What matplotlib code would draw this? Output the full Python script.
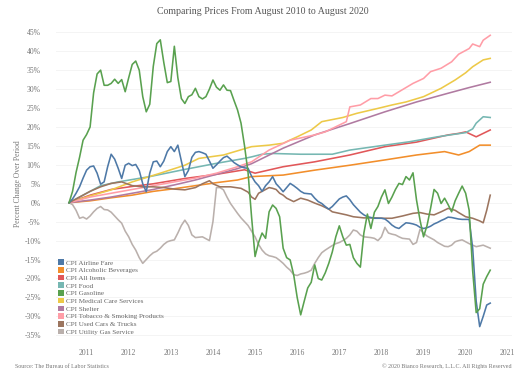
import numpy as np
import matplotlib
matplotlib.use('Agg')
import matplotlib.pyplot as plt
from matplotlib.patches import Patch

# months counted from August 2010 (0) to August 2020 (120)
airline_m = list(range(121))
airline_v = [0, 1, 2.5, 4.2, 6.5, 8.6, 9.5, 9.7, 7.8, 4.9, 5.5, 9.5, 12.8, 11.5, 9.1, 6.4,
             9.9, 10.4, 9.8, 10.1, 8.5, 5, 2.9, 7.8, 10.8, 11, 9.5, 11, 13.5, 14.8, 13.5,
             15.2, 11, 6.9, 8.5, 12, 13.3, 13.5, 13.2, 12.8, 11, 9.1, 10, 11, 11.9, 12.3,
             11.5, 10.6, 10, 9.5, 9.2, 9.1, 7, 5.5, 4.5, 3, 4.5, 5.5, 6.9, 5, 4, 2.9, 4,
             5.1, 4.5, 3.8, 3, 2.5, 2.4, 2.3, 1.2, 0.3, -0.2, -1, -1.7, -1, 0, 1, 1.5, 1.8,
             0.8, -0.5, -1.5, -2.5, -3.2, -3.7, -3.9, -4.1, -4.1, -4.1, -4.3, -5, -5.9,
             -6.5, -6.8, -6, -5.3, -5.4, -5.6, -5.9, -6.5, -6.8, -6.6, -6.2, -5.6, -5.2,
             -4.7, -4.3, -3.8, -3.9, -4.1, -4.3, -4.4, -4.4, -4.4, -12, -26, -32.7, -30,
             -27, -26.5]

alcohol_m = [0, 6, 12, 18, 24, 30, 36, 42, 48, 52, 61, 70, 80, 90, 99, 107, 111, 114, 117, 120]
alcohol_v = [0, 0.5, 1.3, 2, 3, 3.7, 4.5, 5.3, 6, 6.9, 7.3, 8.6, 9.9, 11.3, 12.6, 13.5, 12.6,
             13.5, 15.2, 15.2]

allitems_m = [0, 6, 12, 18, 24, 33, 42, 48, 50, 53, 61, 70, 80, 90, 99, 108, 111, 113, 116,
              118, 120]
allitems_v = [0, 2, 3.5, 4.3, 5, 6.4, 7.5, 8.4, 8.7, 7.8, 9.5, 10.8, 12.6, 14.8, 16, 17.9,
              18.3, 18.7, 17.4, 18.3, 19.2]

food_m = [0, 4, 9, 14, 23, 33, 42, 50, 52, 55, 58, 66, 75, 80, 90, 97, 105, 110, 113, 115,
          116, 118, 120]
food_v = [0, 2, 4.5, 5.5, 6.9, 8.8, 10.4, 11.7, 12.1, 12.8, 13, 12.8, 12.8, 13.9, 15.2, 16.1,
          17.4, 18.1, 18.5, 19.5, 21, 22.7, 22.5]

gas_m = list(range(121))
gas_v = [0, 3, 8, 12, 16.5, 18, 20, 29, 34, 35, 31, 31, 31.5, 32.6, 31.5, 32.5, 29.3, 33,
         36.5, 37.4, 35, 28, 24, 26, 36, 42, 43, 37, 31.7, 32, 41.3, 33, 27.5, 26.2, 28,
         28.5, 30.2, 28, 27.4, 28, 30, 32.4, 30.5, 29.7, 31.1, 29.7, 29.6, 27, 24.5, 21,
         15, 8, -3.7, -14.2, -10.5, -8, -9.4, -2.4, -0.6, -1.5, -3.7, -12, -14.5, -15.1,
         -19, -25, -29.6, -26, -22.5, -21, -16.4, -20, -20.4, -18.5, -16, -13, -9, -6.1,
         -9, -11.2, -11, -14.5, -16, -17, -8, -3, -6.8, -2.5, -1, 1.5, 3.4, -0.2, 1.5, 3.5,
         5.1, 4.8, 6.9, 6, 7.9, 0.7, -4.6, -9, -6, -1.5, 3.5, 2.5, -0.2, 1.2, -0.5, -2.4,
         0.5, 2.5, 4.4, 2.5, -2, -18, -29, -28, -21.5, -19.5, -17.8]

medical_m = [0, 6, 12, 18, 26, 33, 37, 44, 52, 57, 61, 65, 69, 72, 78, 82, 88, 92, 96, 101,
             106, 110, 113, 115, 118, 120]
medical_v = [0, 1.8, 3.4, 5.5, 7.8, 9.9, 11.7, 12.6, 14.8, 15.2, 15.7, 17.4, 19.2, 21.4,
             22.5, 23.6, 24.9, 25.8, 26.6, 28, 30.2, 32.4, 34.3, 35.9, 37.7, 38.1]

shelter_m = [0, 6, 12, 18, 24, 30, 36, 42, 48, 52, 61, 70, 80, 90, 99, 108, 114, 120]
shelter_v = [0, 0.7, 1.5, 2.5, 3.5, 4.7, 6, 7.5, 9, 10.3, 14.4, 17.9, 20.9, 24, 26.6, 28.9,
             30.4, 31.8]

tobacco_m = [0, 6, 12, 18, 24, 30, 36, 42, 48, 52, 57, 63, 70, 73, 79, 80, 83, 86, 88, 90,
             92, 94, 98, 101, 103, 106, 109, 111, 114, 115, 117, 118, 120]
tobacco_v = [0, 1.5, 2.5, 3.5, 4.5, 5.5, 6.5, 7.8, 9.5, 10.8, 13.9, 16.5, 17.9, 18.7, 21.4,
             25.3, 25.8, 27.5, 27.5, 28.4, 28.2, 29.3, 31.5, 32.8, 34.6, 35.5, 37.2, 39.2,
             40.7, 41.9, 41.2, 42.9, 44.2]

cars_m = [0, 3, 6, 9, 12, 15, 18, 21, 24, 27, 30, 33, 36, 38, 40, 41, 43, 46, 49, 51, 52,
          53, 54, 56, 57, 58, 59, 60, 61, 62, 64, 66, 68, 70, 72, 74, 75, 77, 79, 81, 84,
          87, 90, 92, 95, 98, 100, 102, 104, 106, 108, 110, 111, 113, 115, 117, 118, 119, 120]
cars_v = [0, 1.5, 3, 4.2, 5.1, 5.5, 4.5, 4.2, 4.2, 4, 3.6, 3.4, 4, 5, 5.8, 5, 4.2, 4.2,
          3.8, 2.8, 1.5, 0.9, 2.5, 3.5, 4, 3.8, 3.5, 2.5, 2, 1.2, 0.3, 1.2, 0.7, -0.1, -0.8,
          -1.7, -2.4, -2.8, -3.2, -3.7, -4, -4, -4.1, -4.1, -3.5, -2.8, -2.6, -3, -3.2, -2.4,
          -1.5, -2, -2.6, -3.7, -4.1, -4.8, -5.3, -2, 2]

utility_m = list(range(121))
utility_v = [0, -0.5, -2, -4.1, -3.8, -4.3, -3.5, -2.4, -1.5, -1, -1.8, -1.9, -2.5, -3.5,
             -4.5, -5.4, -7.5, -9, -11, -12.5, -14.5, -16, -15, -14, -13.2, -12.8, -12, -11,
             -10.3, -10, -9.8, -8, -6, -4.6, -6, -8.5, -9.2, -9.1, -9, -9.5, -10, -5, 4, 4,
             3.4, 1.5, -0.2, -1.5, -2.8, -4, -5, -6, -7.5, -9, -11, -12.5, -13.5, -14, -14.2,
             -14.5, -15.2, -16, -17, -17.8, -19, -19.2, -18.8, -18.6, -18.3, -17.8, -16,
             -14.5, -13.2, -12.5, -11.9, -11.3, -10.8, -10.5, -10, -9.4, -8.5, -7.2, -7.5,
             -8.5, -9, -9.1, -9.2, -9.4, -10, -9, -6.5, -8, -8.3, -8.5, -9, -9.4, -9.5, -9.6,
             -11, -10.5, -7, -8, -8.8, -9.3, -9.8, -10.5, -11, -11.5, -11.6, -11.2, -10.3,
             -10, -9.8, -10.3, -10.8, -11.2, -11.6, -11.4, -11.2, -11.6, -12]

labels = ['CPI Airline Fare', 'CPI Alcoholic Beverages', 'CPI All Items', 'CPI Food',
          'CPI Gasoline', 'CPI Medical Care Services', 'CPI Shelter',
          'CPI Tobacco & Smoking Products', 'CPI Used Cars & Trucks', 'CPI Utility Gas Service']
colors = ['#4e79a7', '#f28e2b', '#e15759', '#76b7b2', '#59a14f', '#edc948', '#b07aa1',
          '#ff9da7', '#9c755f', '#bab0ac']
series = [(airline_m, airline_v), (alcohol_m, alcohol_v), (allitems_m, allitems_v),
          (food_m, food_v), (gas_m, gas_v), (medical_m, medical_v), (shelter_m, shelter_v),
          (tobacco_m, tobacco_v), (cars_m, cars_v), (utility_m, utility_v)]

years = list(range(2011, 2022))
yticks = list(range(-35, 50, 5))

plt.rcParams['font.family'] = ['Liberation Serif', 'DejaVu Serif']

fig = plt.figure(figsize=(5.22, 3.77), dpi=100)
ax = fig.add_axes([0.1073, 0.1005, 0.8736, 0.824])

# draw order: smooth ones behind volatile ones roughly like the original
order = [1, 2, 3, 5, 6, 7, 9, 8, 0, 4]
for i in order:
    m, v = series[i]
    x = 2010 + 7 / 12 + np.array(m) / 12
    ax.plot(x, v, color=colors[i], lw=1.15, solid_joinstyle='round')

ax.set_xlim(2010.274, 2021.101)
ax.set_ylim(-36, 46)
ax.set_xticks(years)
ax.set_xticklabels([str(y) for y in years])
ax.set_yticks(yticks)
ax.set_yticklabels(['%d%%' % t for t in yticks])
ax.tick_params(length=0, labelsize=5.5, labelcolor='#777777')
ax.tick_params(axis='y', pad=11)
ax.tick_params(axis='x', pad=7)
ax.grid(axis='y', color='#f2f2f2', lw=0.6)
ax.set_axisbelow(True)
for s in ax.spines.values():
    s.set_visible(False)

ax.set_ylabel('Percent Change Over Period', fontsize=5.5, color='#777777')
ax.yaxis.set_label_coords(-0.0746, 0.5)

handles = [Patch(facecolor=c, edgecolor='none') for c in colors]
leg = ax.legend(handles, labels, loc='lower left', bbox_to_anchor=(-0.005, 0.0),
                frameon=False, fontsize=5.1, handlelength=0.85, handleheight=0.85,
                handletextpad=0.35, labelspacing=0.2, borderaxespad=0.2)
for t in leg.get_texts():
    t.set_color('#666666')

fig.text(0.504, 0.97, 'Comparing Prices From August 2010 to August 2020', ha='center',
         va='center', fontsize=7.1, color='#555555')
fig.text(0.029, 0.029, 'Source: The Bureau of Labor Statistics', ha='left', va='center',
         fontsize=4.3, color='#777777')
fig.text(0.981, 0.029, '\u00a9 2020 Bianco Research, L.L.C. All Rights Reserved', ha='right',
         va='center', fontsize=4.3, color='#777777')

fig.savefig('out.png', dpi=100)
